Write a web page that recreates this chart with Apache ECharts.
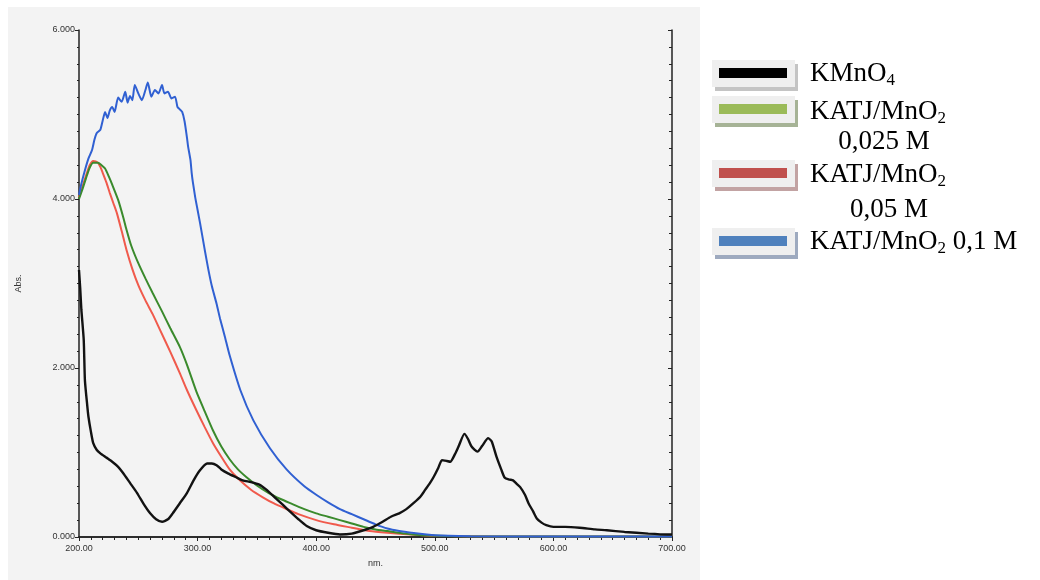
<!DOCTYPE html>
<html>
<head>
<meta charset="utf-8">
<script src="https://cdn.jsdelivr.net/npm/echarts@6/dist/echarts.min.js"></script>
<style>
  html, body { margin: 0; padding: 0; background: #fff; }
  #chart { width: 1040px; height: 580px; }
</style>
</head>
<body>
<div id="chart"></div>
<script>
// wavelengths (nm) and absorbance
const kmno4Nm = [200, 201, 202, 204, 205, 207, 208, 210, 212, 215, 218, 223, 228, 233, 237, 243, 249, 255, 260, 265,
  270, 275, 279, 285, 291, 297, 302, 308, 312, 316, 320, 326, 332, 338, 345, 352, 358, 365, 372, 378,
  385, 392, 400, 410, 420, 430, 440, 448, 456, 463, 470, 476, 482, 488, 492, 496, 499, 503, 506, 510,
  513, 517, 520, 525, 528, 531, 536, 540, 545, 548, 552, 556, 559, 563, 566, 569, 572, 576, 579, 583,
  586, 590, 594, 600, 610, 622, 635, 645, 660, 680, 696, 700];
const kmno4Abs = [3.16, 2.95, 2.69, 2.33, 1.85, 1.55, 1.42, 1.25, 1.11, 1.03, 0.99, 0.94, 0.89, 0.83, 0.76, 0.64, 0.52, 0.38, 0.28, 0.21,
  0.18, 0.21, 0.28, 0.40, 0.52, 0.68, 0.79, 0.87, 0.87, 0.85, 0.80, 0.75, 0.71, 0.67, 0.65, 0.62, 0.56, 0.47, 0.38, 0.30,
  0.21, 0.13, 0.08, 0.05, 0.03, 0.04, 0.08, 0.12, 0.18, 0.24, 0.28, 0.33, 0.40, 0.48, 0.56, 0.64, 0.71, 0.82, 0.91, 0.90,
  0.89, 0.98, 1.07, 1.22, 1.16, 1.07, 1.01, 1.08, 1.17, 1.13, 0.95, 0.80, 0.70, 0.68, 0.67, 0.63, 0.59, 0.50, 0.40, 0.30,
  0.22, 0.17, 0.14, 0.12, 0.12, 0.11, 0.09, 0.08, 0.06, 0.04, 0.03, 0.03];

const katj025Nm = [200, 203, 206, 209, 212, 216, 219, 222, 225, 228, 233, 237, 240, 244, 250, 256, 262, 270, 277, 285,
  291, 299, 305, 313, 320, 327, 334, 341, 350, 360, 370, 380, 390, 400, 410, 420, 430, 440, 450, 460,
  475, 490, 520, 600, 700];
const katj025Abs = [4.00, 4.12, 4.25, 4.37, 4.43, 4.43, 4.40, 4.36, 4.27, 4.17, 3.99, 3.80, 3.64, 3.45, 3.24, 3.06, 2.89, 2.67, 2.47, 2.25,
  2.04, 1.72, 1.52, 1.26, 1.07, 0.92, 0.80, 0.71, 0.61, 0.52, 0.45, 0.39, 0.33, 0.28, 0.24, 0.20, 0.16, 0.12, 0.09, 0.07,
  0.04, 0.02, 0.01, 0.005, 0.005];

const katj05Nm = [200, 203, 206, 209, 212, 216, 218, 220, 223, 226, 229, 232, 236, 240, 245, 250, 256, 262, 268, 277,
  285, 291, 299, 306, 313, 320, 327, 335, 345, 355, 364, 375, 385, 400, 415, 430, 445, 460, 480, 500,
  550, 700];
const katj05Abs = [4.02, 4.15, 4.28, 4.40, 4.45, 4.43, 4.38, 4.31, 4.20, 4.07, 3.95, 3.83, 3.62, 3.40, 3.17, 2.98, 2.80, 2.64, 2.46, 2.19,
  1.94, 1.74, 1.50, 1.30, 1.11, 0.95, 0.80, 0.68, 0.56, 0.47, 0.40, 0.33, 0.27, 0.20, 0.15, 0.11, 0.07, 0.05, 0.03, 0.015,
  0.005, 0.005];

const katj1Nm = [200, 202, 205, 208, 211, 213, 215, 218, 220, 222, 224, 226, 228, 230, 233, 236, 239, 241, 243, 245,
  247, 250, 253, 256, 258, 261, 264, 267, 270, 272, 275, 278, 281, 283, 285, 287, 289, 291, 292, 294,
  295, 296, 298, 300, 302, 306, 309, 312, 316, 319, 323, 327, 336, 347, 361, 375, 390, 400, 410, 420,
  430, 440, 450, 460, 470, 480, 500, 530, 600, 700];
const katj1Abs = [4.05, 4.18, 4.34, 4.48, 4.58, 4.70, 4.78, 4.82, 4.93, 5.03, 4.96, 5.05, 5.09, 5.03, 5.20, 5.15, 5.27, 5.14, 5.22, 5.17,
  5.35, 5.25, 5.17, 5.29, 5.38, 5.21, 5.29, 5.25, 5.35, 5.25, 5.27, 5.19, 5.21, 5.09, 5.06, 5.03, 4.92, 4.73, 4.62, 4.46,
  4.31, 4.20, 4.02, 3.87, 3.72, 3.40, 3.17, 2.97, 2.76, 2.58, 2.37, 2.15, 1.74, 1.38, 1.05, 0.80, 0.60, 0.50, 0.41, 0.33,
  0.27, 0.21, 0.15, 0.10, 0.07, 0.05, 0.02, 0.01, 0.005, 0.005];

const lineColors = ['#f05a4c', '#3a8a2c', '#3060d2', '#121212'];
const swatchColors = ['#000000', '#9bbb59', '#c0504d', '#4f81bd'];
const shadowColors = ['#c4c4c4', '#a6b396', '#c2a3a3', '#9eaabf'];

const zip = (xs, ys) => xs.map((x, i) => [x, ys[i]]);

const chart = echarts.init(document.getElementById('chart'));

const axisColor = '#222';
const labelStyle = { color: '#333', fontSize: 9, fontFamily: 'Arial, Liberation Sans, sans-serif' };

// legend built by hand: the scan shows Word-style framed swatches with subscripts
const legendRows = [
  { swatchY: 73, lines: [{ y: 74, rich: '{m|KMnO}{s|4}' }] },
  { swatchY: 109, lines: [{ y: 112, rich: '{m|KATJ/MnO}{s|2}' }, { y: 142, cx: 884, rich: '{m|0,025 M}' }] },
  { swatchY: 173, lines: [{ y: 175, rich: '{m|KATJ/MnO}{s|2}' }, { y: 210, cx: 889, rich: '{m|0,05 M}' }] },
  { swatchY: 241, lines: [{ y: 242, rich: '{m|KATJ/MnO}{s|2}{m| 0,1 M}' }] }
];
const richStyles = {
  m: { fontSize: 27, fontFamily: 'Liberation Serif, Times New Roman, serif', color: '#000', lineHeight: 30 },
  s: { fontSize: 17, fontFamily: 'Liberation Serif, Times New Roman, serif', color: '#000', lineHeight: 18, verticalAlign: 'bottom' }
};

const legendGraphics = [];
legendRows.forEach((row, i) => {
  legendGraphics.push({
    type: 'rect', left: 715, top: row.swatchY - 13 + 4, silent: true,
    shape: { width: 83, height: 27 }, style: { fill: shadowColors[i] }
  });
  legendGraphics.push({
    type: 'rect', left: 712, top: row.swatchY - 13, silent: true,
    shape: { width: 83, height: 27 }, style: { fill: '#efefef' }
  });
  legendGraphics.push({
    type: 'rect', left: 719, top: row.swatchY - 5, silent: true,
    shape: { width: 68, height: 10 }, style: { fill: swatchColors[i] }
  });
  row.lines.forEach(line => {
    legendGraphics.push({
      type: 'text', x: line.cx || 810, y: line.y, silent: true,
      style: {
        text: line.rich, rich: richStyles,
        align: line.cx ? 'center' : 'left', verticalAlign: 'middle'
      }
    });
  });
});

const option = {
  backgroundColor: '#ffffff',
  animation: false,
  grid: { left: 79, right: 368, top: 30, bottom: 43 },
  graphic: [
    { type: 'rect', left: 8, top: 7, z: -10, silent: true,
      shape: { width: 692, height: 573 }, style: { fill: '#f3f3f3' } },
    ...legendGraphics
  ],
  xAxis: [
    {
      type: 'value', min: 200, max: 700, interval: 100, position: 'bottom',
      name: 'nm.', nameLocation: 'middle', nameGap: 22,
      nameTextStyle: labelStyle,
      splitLine: { show: false },
      axisLine: { show: true, onZero: false, lineStyle: { color: axisColor, width: 1.5 } },
      axisTick: { show: true, length: 4, lineStyle: { color: axisColor } },
      minorTick: { show: true, splitNumber: 10, length: 3, lineStyle: { color: axisColor } },
      axisLabel: { ...labelStyle, margin: 7, formatter: v => v.toFixed(2) }
    },
    {
      type: 'value', min: 200, max: 700, interval: 100, position: 'top',
      splitLine: { show: false },
      axisLine: { show: true, lineStyle: { color: axisColor, width: 1.5 } },
      axisTick: { show: true, inside: true, length: 4, lineStyle: { color: axisColor } },
      minorTick: { show: true, splitNumber: 10, length: 2, lineStyle: { color: axisColor } },
      axisLabel: { show: false }
    }
  ],
  yAxis: [
    {
      type: 'value', min: 0, max: 6, interval: 2, position: 'left',
      name: 'Abs.', nameLocation: 'middle', nameGap: 56, nameRotate: 90,
      nameTextStyle: labelStyle,
      splitLine: { show: false },
      axisLine: { show: true, onZero: false, lineStyle: { color: axisColor, width: 1.5 } },
      axisTick: { show: true, length: 4, lineStyle: { color: axisColor } },
      minorTick: { show: true, splitNumber: 10, length: 2, lineStyle: { color: axisColor } },
      axisLabel: { ...labelStyle, margin: 4, formatter: v => v.toFixed(3) }
    },
    {
      type: 'value', min: 0, max: 6, interval: 2, position: 'right',
      splitLine: { show: false },
      axisLine: { show: true, lineStyle: { color: axisColor, width: 1.5 } },
      axisTick: { show: true, inside: true, length: 4, lineStyle: { color: axisColor } },
      minorTick: { show: true, splitNumber: 10, length: 3, lineStyle: { color: axisColor } },
      axisLabel: { show: false }
    }
  ],
  series: [
    { name: 'KATJ/MnO2 0,05 M', data: zip(katj05Nm, katj05Abs), color: lineColors[0] },
    { name: 'KATJ/MnO2 0,025 M', data: zip(katj025Nm, katj025Abs), color: lineColors[1] },
    { name: 'KATJ/MnO2 0,1 M', data: zip(katj1Nm, katj1Abs), color: lineColors[2] },
    { name: 'KMnO4', data: zip(kmno4Nm, kmno4Abs), color: lineColors[3] }
  ].map((s, i) => ({
    ...s,
    type: 'line',
    xAxisIndex: 0,
    yAxisIndex: 0,
    showSymbol: false,
    smooth: 0.2,
    lineStyle: { width: i === 3 ? 2.4 : 2, color: s.color }
  }))
};

chart.setOption(option);
</script>
</body>
</html>
